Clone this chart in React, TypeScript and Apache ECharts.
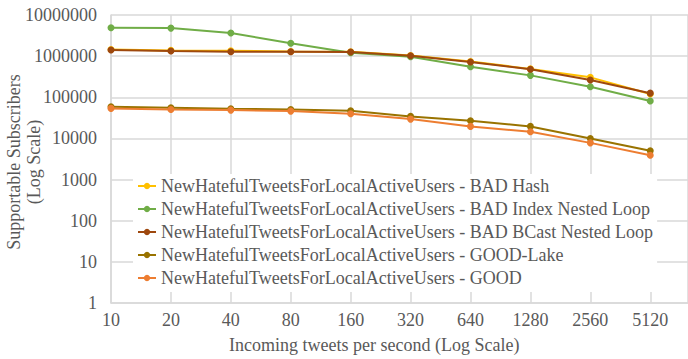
import React, { useEffect, useRef } from "react";
import * as echarts from "echarts";

const xLabels = ["10", "20", "40", "80", "160", "320", "640", "1280", "2560", "5120"];
const seriesNames = [
  "NewHatefulTweetsForLocalActiveUsers - BAD Hash",
  "NewHatefulTweetsForLocalActiveUsers - BAD Index Nested Loop",
  "NewHatefulTweetsForLocalActiveUsers - BAD BCast Nested Loop",
  "NewHatefulTweetsForLocalActiveUsers - GOOD-Lake",
  "NewHatefulTweetsForLocalActiveUsers - GOOD",
];
const badHash = [1450000, 1380000, 1350000, 1300000, 1280000, 1040000, 740000, 490000, 305000, 120000];
const badIndexNL = [4900000, 4800000, 3650000, 2050000, 1210000, 970000, 552000, 341000, 180000, 81000];
const badBcastNL = [1410000, 1330000, 1280000, 1280000, 1260000, 1020000, 718000, 478000, 262000, 126000];
const goodLake = [58700, 55600, 52500, 50700, 47000, 34300, 26900, 19600, 10000, 5000];
const good = [53700, 50700, 48800, 46100, 39700, 29500, 19600, 14500, 7800, 3900];
const colors = ["#FFC000", "#70AD47", "#9E480E", "#997300", "#ED7D31"];

const FONT = "Liberation Serif";
const FS = 18;
const TEXT = "#595959";
const GRID = "#d9d9d9";

export default function App() {
  const ref = useRef<HTMLDivElement>(null);
  useEffect(() => {
    if (!ref.current) return;
    const chart = echarts.init(ref.current, undefined, { renderer: "svg" });
    const all = [badHash, badIndexNL, badBcastNL, goodLake, good];
    chart.setOption({
      animation: false,
      grid: { left: 111, right: -4, top: 15, bottom: 56, containLabel: false },
      legend: {
        orient: "vertical",
        left: 133,
        top: 174,
        width: 522,
        itemGap: 5,
        itemWidth: 18,
        itemHeight: 8,
        backgroundColor: "#ffffff",
        padding: [3, 4, 5, 4],
        textStyle: { fontFamily: FONT, fontSize: FS, color: TEXT },
        data: seriesNames,
      },
      xAxis: {
        type: "value",
        min: 0,
        max: 9.63,
        interval: 1,
        axisLine: { show: true, lineStyle: { color: GRID, width: 1.5 } },
        axisTick: { show: false },
        splitLine: { show: true, lineStyle: { color: GRID, width: 1.5 } },
        axisLabel: {
          fontFamily: FONT,
          fontSize: FS,
          color: TEXT,
          margin: 8,
          showMaxLabel: false,
          formatter: (v: number) => (Number.isInteger(v) && xLabels[v] !== undefined ? xLabels[v] : ""),
        },
      },
      yAxis: {
        type: "log",
        logBase: 10,
        min: 1,
        max: 10000000,
        axisLine: { show: true, lineStyle: { color: GRID, width: 1.5 } },
        axisTick: { show: false },
        splitLine: { show: true, lineStyle: { color: GRID, width: 1.5 } },
        axisLabel: {
          fontFamily: FONT,
          fontSize: FS,
          color: TEXT,
          margin: 14,
          formatter: (v: number) => String(Math.round(v)),
        },
      },
      graphic: [
        {
          type: "text",
          left: 229,
          top: 336,
          style: {
            text: "Incoming tweets per second (Log Scale)",
            fontFamily: FONT,
            fontSize: FS,
            fill: TEXT,
          },
        },
        {
          type: "text",
          x: 24,
          y: 162,
          rotation: Math.PI / 2,
          style: {
            text: "Supportable Subscribers\n(Log Scale)",
            fontFamily: FONT,
            fontSize: FS,
            fill: TEXT,
            align: "center",
            verticalAlign: "middle",
            lineHeight: 20,
          },
        },
      ],
      series: seriesNames.map((name, i) => ({
        name,
        type: "line",
        data: all[i].map((v, j) => [j, v]),
        symbol: "circle",
        symbolSize: 7,
        lineStyle: { width: 2, color: colors[i] },
        itemStyle: { color: colors[i] },
        z: 2 + i,
      })),
    });
    return () => chart.dispose();
  }, []);
  return (
    <div
      ref={ref}
      style={{ position: "absolute", left: 0, top: 0, width: 688, height: 359, background: "#ffffff" }}
    />
  );
}
